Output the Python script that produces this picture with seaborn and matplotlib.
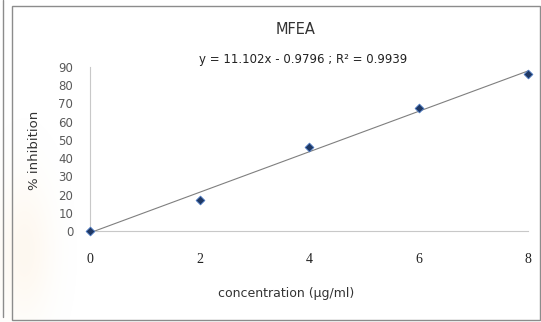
import numpy as np
import pandas as pd
import matplotlib
matplotlib.use("Agg")
import matplotlib.pyplot as plt
from matplotlib.patches import Rectangle
from matplotlib.lines import Line2D
import seaborn as sns

# Measured inhibition at each concentration
concentration = [0, 2, 4, 6, 8]
inhibition = [0.0, 17.0, 46.0, 67.5, 86.0]

# Linear trendline reported on the chart
slope = 11.102
intercept = -0.9796
r_squared = 0.9939

x_ticks = [0, 2, 4, 6, 8]
y_ticks = [0, 10, 20, 30, 40, 50, 60, 70, 80, 90]

sns.set_theme(style="white")
plt.rcParams["font.family"] = ["DejaVu Sans"]

W, H = 541, 322
fig = plt.figure(figsize=(W / 100, H / 100), dpi=100)
fig.patch.set_facecolor("white")

def fx(px):
    return px / W

def fy(py):
    return 1 - py / H

# Faint page watermark in the lower-left corner
bg = fig.add_axes([0, 0, 1, 1], zorder=-5)
bg.set_axis_off()
yy, xx = np.mgrid[0:H, 0:W]
blob = np.exp(-(((xx - 24) / 28.0) ** 2 + ((yy - 250) / 70.0) ** 2))
rgba = np.zeros((H, W, 4))
rgba[..., 0] = 0.97
rgba[..., 1] = 0.80
rgba[..., 2] = 0.58
rgba[..., 3] = 0.14 * blob
bg.imshow(rgba, extent=(0, W, H, 0), aspect="auto", interpolation="bilinear")
bg.set_xlim(0, W)
bg.set_ylim(H, 0)

ax = fig.add_axes([fx(90), fy(231), fx(528) - fx(90), fy(67) - fy(231)])
ax.set_facecolor("none")

df = pd.DataFrame({"concentration": concentration, "inhibition": inhibition})

# Trendline from the fitted equation
x_line = np.array([x_ticks[0], x_ticks[-1]], dtype=float)
trend = pd.DataFrame({"x": x_line, "y": slope * x_line + intercept})
sns.lineplot(data=trend, x="x", y="y", ax=ax, color="#7f7f7f", linewidth=0.8,
             clip_on=False, zorder=2)

sns.scatterplot(data=df, x="concentration", y="inhibition", ax=ax, marker="D",
                s=20, color="#1f3864", edgecolor="#4a78c2", linewidth=0.6,
                clip_on=False, zorder=3)

ax.set_xlim(0, 8)
ax.set_ylim(0, 90)
ax.set_xticks(x_ticks)
ax.set_yticks(y_ticks)
ax.set_xlabel("")
ax.set_ylabel("")

for side in ("top", "right"):
    ax.spines[side].set_visible(False)
for side in ("left", "bottom"):
    ax.spines[side].set_color("#c8c8c8")
    ax.spines[side].set_linewidth(0.8)

ax.tick_params(axis="y", which="major", direction="out", length=4, width=0.8,
               color="#c8c8c8", labelcolor="#595959", labelsize=8.5, pad=8)
ax.tick_params(axis="x", which="major", direction="out", length=4, width=0.8,
               color="#c8c8c8", labelcolor="#222222", labelsize=10, pad=12)
for lbl in ax.get_xticklabels():
    lbl.set_fontfamily(["Liberation Serif", "DejaVu Serif"])

fig.text(fx(296), fy(30), "MFEA", ha="center", va="center", fontsize=10.5,
         color="#333333")
fig.text(fx(303.5), fy(59), f"y = {slope}x - {abs(intercept)} ; R² = {r_squared}",
         ha="center", va="center", fontsize=8.5, color="#222222")
fig.text(fx(35), fy(150), "% inhibition", ha="center", va="center",
         rotation=90, fontsize=9.5, color="#333333")
fig.text(fx(286), fy(294), "concentration (µg/ml)", ha="center", va="center",
         fontsize=9, color="#333333")

# Chart border and neighbouring rule on the left
fig.patches.append(Rectangle((fx(12), fy(320)), fx(540) - fx(12), fy(6) - fy(320),
                             transform=fig.transFigure, fill=False,
                             edgecolor="#8c8c8c", linewidth=1.0))
fig.lines.append(Line2D([fx(3), fx(3)], [fy(0), fy(317)], transform=fig.transFigure,
                        color="#8c8c8c", linewidth=1.0))

fig.savefig("out.png", dpi=100, facecolor="white")
